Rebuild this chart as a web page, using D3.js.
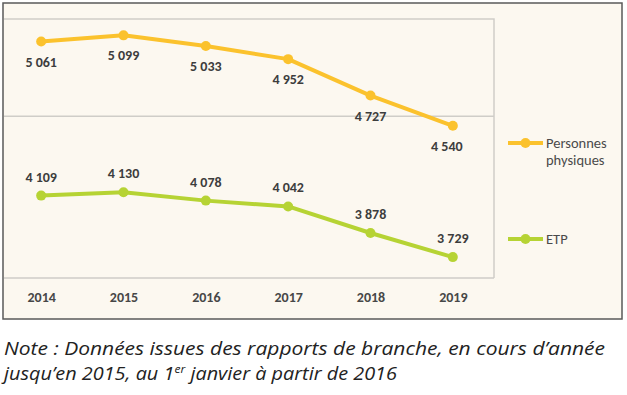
<!DOCTYPE html>
<html>
<head>
<meta charset="utf-8">
<script src="https://cdn.jsdelivr.net/npm/d3@7"></script>
<style>
  body { margin: 0; background: #fff; }
  svg { display: block; }
</style>
</head>
<body>
<div id="chart"></div>
<script>
// data
const years = ["2014", "2015", "2016", "2017", "2018", "2019"];
const personnes = [5061, 5099, 5033, 4952, 4727, 4540];
const etp = [4109, 4130, 4078, 4042, 3878, 3729];
const seriesNames = ["Personnes physiques", "ETP"];
const gridValues = [3600, 4600];

const W = 627, H = 395;
const plot = { left: 0, right: 494, top: 19, bottom: 278 };
const fmt = v => d3.format(",")(v).replace(",", "\u202f");

const svg = d3.select("#chart").append("svg")
    .attr("width", W)
    .attr("height", H);

// cream card with dark frame
svg.append("rect")
    .attr("x", 3).attr("y", 3)
    .attr("width", 619).attr("height", 316)
    .attr("fill", "#fcf8f0")
    .attr("stroke", "#5a5a5a")
    .attr("stroke-width", 1.5);

let x = d3.scalePoint()
    .domain(years)
    .range([plot.left, plot.right])
    .padding(0.5);

let y = d3.scaleLinear()
    .domain([3600, 5200])
    .range([plot.bottom, plot.top]);

// gridlines + plot box
svg.append("g")
    .selectAll("line")
    .data(gridValues)
    .enter()
    .append("line")
    .attr("x1", 4).attr("x2", plot.right)
    .attr("y1", d => y(d)).attr("y2", d => y(d))
    .attr("stroke", "#cfcdc8")
    .attr("stroke-width", 1.5);

svg.append("path")
    .attr("d", `M4,${y(5200)}H${plot.right}V${y(3600)}`)
    .attr("fill", "none")
    .attr("stroke", "#cfcdc8")
    .attr("stroke-width", 1.5);

// x axis labels
let xAxis = d3.axisBottom(x).tickSize(0).tickPadding(0);
let ax = svg.append("g")
    .attr("transform", `translate(0,${plot.bottom + 14})`)
    .call(xAxis);
ax.select(".domain").remove();
ax.selectAll("text")
    .attr("font-family", "Carlito, 'Liberation Sans', sans-serif")
    .attr("font-size", 14)
    .attr("font-weight", "bold")
    .attr("fill", "#474747");

const series = [
    { name: seriesNames[0], values: personnes, color: "#fbc22d", labelDy: 25 },
    { name: seriesNames[1], values: etp, color: "#b6d334", labelDy: -14 }
];

let line = d3.line()
    .x((d, i) => x(years[i]))
    .y(d => y(d));

series.forEach(s => {
    let g = svg.append("g");
    g.append("path")
        .datum(s.values)
        .attr("d", line)
        .attr("fill", "none")
        .attr("stroke", s.color)
        .attr("stroke-width", 4)
        .attr("stroke-linejoin", "round");

    g.selectAll("circle")
        .data(s.values)
        .enter()
        .append("circle")
        .attr("cx", (d, i) => x(years[i]))
        .attr("cy", d => y(d))
        .attr("r", 5)
        .attr("fill", s.color);

    g.selectAll("text")
        .data(s.values)
        .enter()
        .append("text")
        .attr("x", (d, i) => x(years[i]) + (i === 5 && s.labelDy > 0 ? -6 : 0))
        .attr("y", d => y(d) + s.labelDy)
        .attr("text-anchor", "middle")
        .attr("font-family", "Carlito, 'Liberation Sans', sans-serif")
        .attr("font-size", 14)
        .attr("font-weight", "bold")
        .attr("fill", "#3d3d3d")
        .text(d => fmt(d));
});

// legend
const legendY = [143, 239];
series.forEach((s, i) => {
    let lg = svg.append("g").attr("transform", `translate(508,${legendY[i]})`);
    lg.append("line")
        .attr("x1", 0).attr("x2", 35)
        .attr("stroke", s.color)
        .attr("stroke-width", 4);
    lg.append("circle")
        .attr("cx", 17.5).attr("r", 5)
        .attr("fill", s.color);
    let t = lg.append("text")
        .attr("x", 38)
        .attr("y", 5)
        .attr("font-family", "Carlito, 'Liberation Sans', sans-serif")
        .attr("font-size", 14.5)
        .attr("fill", "#4a4a4a");
    let words = s.name.split(" ");
    words.forEach((w, j) => {
        t.append("tspan")
            .attr("x", 38)
            .attr("dy", j === 0 ? 0 : 17)
            .text(w);
    });
});

// note under the chart
let note = svg.append("g")
    .attr("font-family", "'Open Sans', sans-serif")
    .attr("font-style", "italic")
    .attr("font-size", 18)
    .attr("fill", "#222");

note.append("text")
    .attr("x", 4).attr("y", 355)
    .attr("textLength", 601)
    .attr("lengthAdjust", "spacingAndGlyphs")
    .text("Note : Données issues des rapports de branche, en cours d’année");

let l2 = note.append("text")
    .attr("x", 4).attr("y", 380)
    .attr("textLength", 393)
    .attr("lengthAdjust", "spacingAndGlyphs");
l2.append("tspan").text("jusqu’en 2015, au 1");
l2.append("tspan")
    .attr("font-size", 11)
    .attr("dy", -7)
    .text("er");
l2.append("tspan")
    .attr("dy", 7)
    .text(" janvier à partir de 2016");
</script>
</body>
</html>
